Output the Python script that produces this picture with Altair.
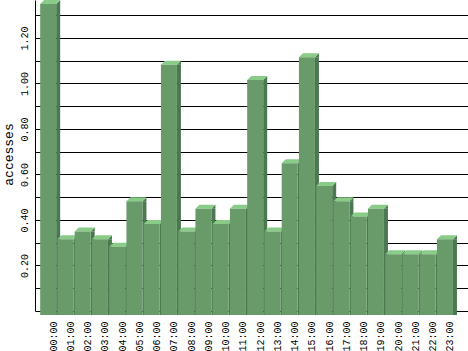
import altair as alt
import pandas as pd

hours = ["00:00", "01:00", "02:00", "03:00", "04:00", "05:00", "06:00", "07:00",
         "08:00", "09:00", "10:00", "11:00", "12:00", "13:00", "14:00", "15:00",
         "16:00", "17:00", "18:00", "19:00", "20:00", "21:00", "22:00", "23:00"]
values = [1.367, 0.333, 0.367, 0.333, 0.300, 0.500, 0.400, 1.100,
          0.367, 0.467, 0.400, 0.467, 1.033, 0.367, 0.667, 1.133,
          0.567, 0.500, 0.433, 0.467, 0.267, 0.267, 0.267, 0.333]
y_ticks = [0.0, 0.1, 0.2, 0.3, 0.4, 0.5, 0.6, 0.7, 0.8, 0.9, 1.0, 1.1, 1.2, 1.3]

df = pd.DataFrame({"idx": list(range(len(hours))), "hour": hours, "value": values})

FRONT = "#689b69"
TOP = "#88cc88"
SIDE = "#4b7850"
FONT = "Liberation Mono"

x_scale = alt.Scale(domain=[-0.3, 24.8], nice=False, zero=False)
y_scale = alt.Scale(domain=[0, max(values)], nice=False, zero=True)

label_list = "[" + ",".join("'%s'" % h for h in hours) + "]"
x_axis = alt.Axis(values=list(range(len(hours))), labelExpr=label_list + "[datum.value]",
                  title=None, domain=False, ticks=False, tickSize=0, grid=False,
                  labelAngle=-90, labelAlign="right", labelBaseline="middle",
                  labelOffset=13, labelPadding=10, labelFont=FONT, labelFontSize=10,
                  labelColor="black", labelFlush=False, labelOverlap=False)
y_axis = alt.Axis(values=y_ticks,
                  labelExpr="(round(datum.value*10) % 2 == 0 && datum.value > 0.05) ? format(datum.value, '.2f') : ''",
                  title="accesses", domain=True, domainColor="black", domainWidth=1,
                  ticks=False, tickSize=0, grid=True, gridColor="black", gridWidth=1, gridOpacity=1,
                  labelAngle=-90, labelAlign="center", labelBaseline="alphabetic",
                  labelPadding=8, labelFont=FONT, labelFontSize=10, labelColor="black",
                  labelFlush=False, labelOverlap=False,
                  titleFont=FONT, titleFontSize=13, titleFontWeight="normal", titleColor="black",
                  titleAngle=270, titleAlign="center", titleBaseline="alphabetic",
                  titleX=-23, titleY=154)

X = alt.X("idx:Q", scale=x_scale, axis=x_axis)
Y = alt.Y("value:Q", scale=y_scale, axis=y_axis)

base = alt.Chart(df)

sides = base.mark_bar(color=SIDE, xOffset=16, x2Offset=20, yOffset=4, y2Offset=4).encode(
    x=X, x2="idx:Q", y=Y, y2=alt.datum(0))

tri = base.mark_point(shape="M16,0L20,-4L20,0Z", size=4, filled=True, color=SIDE,
                      opacity=1, strokeWidth=0, yOffset=4).encode(x=X, y=Y)

tops = base.mark_point(shape="M0,0L16,0L20,-4L4,-4Z", size=4, filled=True, color=TOP,
                       opacity=1, strokeWidth=0, yOffset=4).encode(x=X, y=Y)

fronts = base.mark_bar(color=FRONT, x2Offset=16, yOffset=4, y2Offset=4).encode(
    x=X, x2="idx:Q", y=Y, y2=alt.datum(0))

chart = alt.layer(sides, tri, tops, fronts).properties(
    width=433, height=311,
    padding={"left": 35, "top": 0, "right": 0, "bottom": 40},
    autosize=alt.AutoSizeParams(type="none"),
    background="white",
).configure_view(stroke=None)

chart.save("out.html", embed_options={"renderer": "svg", "actions": False})
